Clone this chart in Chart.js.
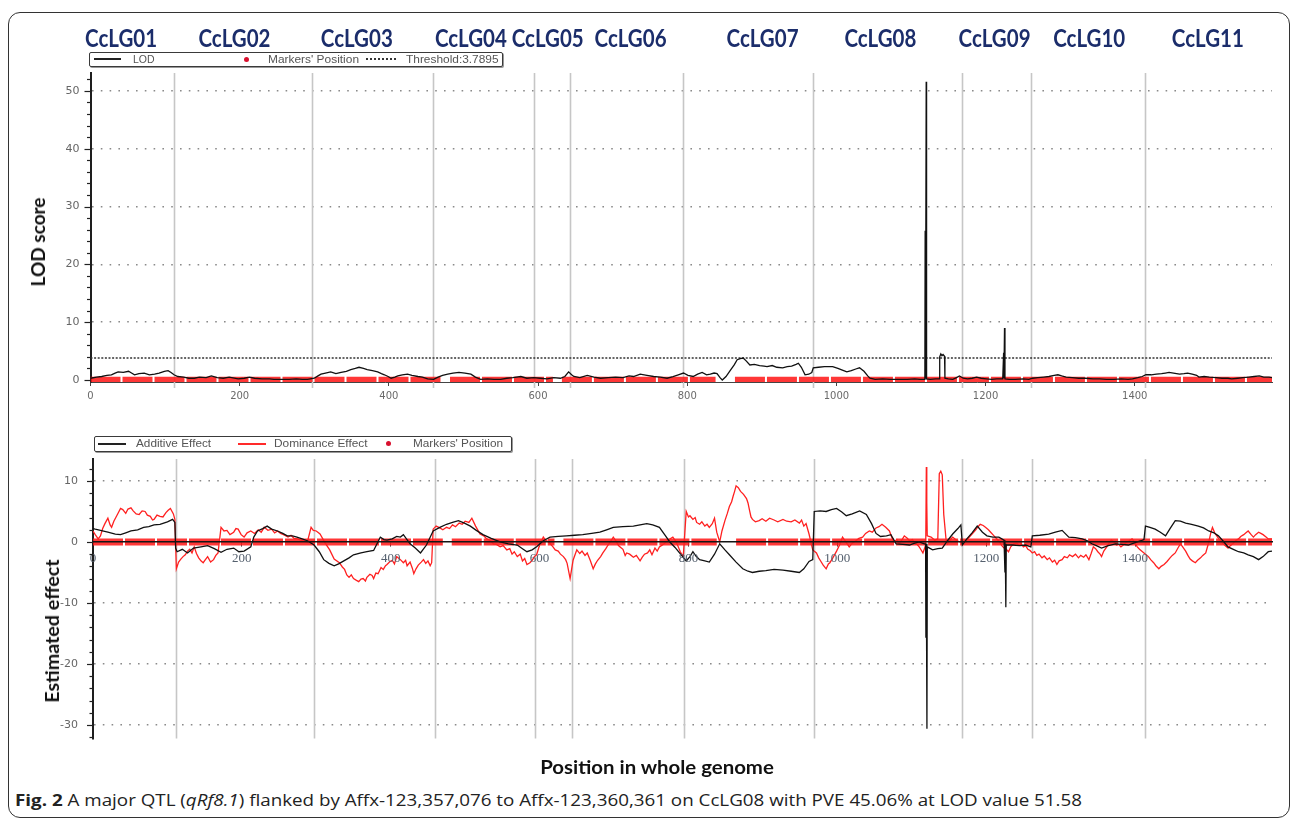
<!DOCTYPE html>
<html>
<head>
<meta charset="utf-8">
<title>QTL qRf8.1 on CcLG08</title>
<script src="https://cdn.jsdelivr.net/npm/chart.js@4.4.1/dist/chart.umd.min.js"></script>
<style>
html,body{margin:0;padding:0;background:#fff;}
#wrap{position:relative;width:1293px;height:822px;overflow:hidden;background:#fff;}
#frame{position:absolute;left:8px;top:12px;width:1282px;height:806px;box-sizing:border-box;border:1.5px solid #333;border-radius:12px;}
.cv{position:absolute;left:0;}
.t{position:absolute;white-space:nowrap;}
.ytitle{font-family:Lato,sans-serif;font-weight:700;font-size:19px;line-height:22px;color:#111;}
.lgd{position:absolute;box-sizing:border-box;border:1.5px solid #3a3a3a;border-radius:2px;box-shadow:1px 1px 0 #999;background:#fff;}
.lgd .tx{position:absolute;top:0;font-family:'Liberation Sans',Arial,sans-serif;font-size:11px;line-height:12px;color:#555;transform-origin:0 50%;white-space:nowrap;}
.sw{position:absolute;height:2px;}
.dot{position:absolute;width:5px;height:5px;border-radius:50%;background:#d8102e;}
#cap{position:absolute;left:15px;top:790px;font-family:'Open Sans',sans-serif;font-size:16px;line-height:20px;color:#222;transform-origin:0 50%;white-space:nowrap;}
</style>
</head>
<body>
<div id="wrap">
  <div id="frame"></div>
  <canvas id="c1" class="cv" width="1293" height="410" style="top:0"></canvas>
  <canvas id="c2" class="cv" width="1293" height="350" style="top:410px"></canvas>

  <div class="lgd" style="left:89px;top:52px;width:414px;height:15px">
    <div class="sw" style="left:4px;top:5px;width:27px;background:#222"></div>
    <span class="tx" style="left:43px" data-w="22">LOD</span>
    <div class="dot" style="left:154px;top:3.5px"></div>
    <span class="tx" style="left:178px" data-w="91">Markers' Position</span>
    <div class="sw" style="left:276px;top:5px;width:30px;height:0;border-top:2px dotted #333"></div>
    <span class="tx" style="left:316px" data-w="93">Threshold:3.7895</span>
  </div>

  <div class="lgd" style="left:94px;top:436px;width:418px;height:16px">
    <div class="sw" style="left:3px;top:5.5px;width:28px;background:#222"></div>
    <span class="tx" style="left:41px" data-w="75">Additive Effect</span>
    <div class="sw" style="left:143px;top:5.5px;width:28px;background:#ff2a2a"></div>
    <span class="tx" style="left:179px" data-w="94">Dominance Effect</span>
    <div class="dot" style="left:291px;top:4px"></div>
    <span class="tx" style="left:318px" data-w="90">Markers' Position</span>
  </div>

  <div class="t ytitle" data-cx="38" data-cy="242" data-w="89" data-rot="1">LOD score</div>
  <div class="t ytitle" data-cx="52" data-cy="631" data-w="143" data-rot="1">Estimated effect</div>
  <div class="t ytitle" data-cx="657" data-cy="767" data-w="234">Position in whole genome</div>
  <div id="cap" data-w="1067"><b>Fig. 2</b> A major QTL (<i>qRf8.1</i>) flanked by Affx-123,357,076 to Affx-123,360,361 on CcLG08 with PVE 45.06% at LOD value 51.58</div>
</div>

<script>
// ---------------- data ----------------
const xMax = 1584;
const xTickValues = [0, 200, 400, 600, 800, 1000, 1200, 1400];
const lgNames = ['CcLG01','CcLG02','CcLG03','CcLG04','CcLG05','CcLG06','CcLG07','CcLG08','CcLG09','CcLG10','CcLG11'];
const lgLabelPos = [41, 193, 357, 510, 613, 724, 901, 1059, 1212, 1339, 1498];
const lgBounds = [112, 297, 459, 594, 643, 794, 969, 1168, 1261, 1414];
const lodThreshold = 3.7895;

const lodCurve = [[0,0.3],[8,0.5],[15,0.6],[22,0.8],[28,0.9],[33,1.2],[37,1.4],[44,1.3],[51,1.5],[55,1.2],[59,0.9],[65,1.1],[72,1.2],[79,0.9],[86,1.0],[92,1.2],[99,1.5],[104,1.6],[108,1.3],[112,0.9],[117,0.6],[125,0.5],[132,0.3],[139,0.3],[146,0.5],[155,0.4],[162,0.7],[170,0.4],[178,0.3],[186,0.5],[198,0.2],[206,0.3],[213,0.5],[220,0.3],[230,0.2],[240,0.2],[246,0.1],[256,0.1],[266,0.1],[276,0.2],[284,0.1],[291,0.1],[300,0.3],[305,0.7],[309,1.0],[315,1.2],[322,1.4],[329,1.1],[336,1.3],[343,1.5],[349,1.8],[355,2.0],[360,2.2],[366,2.0],[371,1.8],[378,1.6],[385,1.4],[390,1.1],[394,0.9],[399,0.6],[403,0.3],[408,0.5],[412,0.7],[418,0.9],[425,1.0],[431,0.8],[439,0.6],[445,0.5],[452,0.2],[460,0.1],[466,0.5],[472,0.8],[479,1.0],[486,1.2],[494,1.3],[502,1.2],[510,1.0],[516,0.5],[523,0.1],[532,0.2],[541,0.1],[550,0.1],[558,0.3],[566,0.4],[577,0.6],[585,0.3],[594,0.4],[603,0.3],[612,0.2],[621,0.4],[630,0.3],[636,0.6],[641,1.4],[645,0.9],[648,0.6],[656,0.4],[666,0.8],[675,0.5],[684,0.3],[694,0.4],[704,0.5],[714,0.4],[722,0.7],[728,0.6],[737,1.0],[746,0.8],[755,0.6],[764,0.5],[773,0.3],[781,0.6],[788,0.9],[795,1.2],[801,0.8],[808,0.6],[814,1.0],[820,1.3],[826,0.9],[831,1.0],[836,1.2],[840,1.1],[844,0.4],[847,0.0],[852,0.6],[858,1.7],[863,2.6],[867,3.5],[871,3.7],[875,3.8],[879,3.3],[884,2.6],[890,2.7],[897,2.5],[903,2.4],[907,2.3],[914,2.5],[920,2.2],[928,2.1],[934,2.3],[940,2.4],[946,2.7],[949,2.9],[953,2.2],[958,0.9],[963,1.0],[967,1.3],[969,2.1],[976,2.2],[984,2.3],[990,2.3],[995,2.3],[1002,2.0],[1008,1.7],[1014,1.4],[1020,1.6],[1026,1.9],[1031,2.1],[1037,1.5],[1042,0.7],[1045,0.3],[1052,0.1],[1062,0.2],[1072,0.1],[1085,0.1],[1095,0.1],[1105,0.2],[1112,0.1],[1118.6,0.1],[1119,25.8],[1119.4,0.2],[1120.4,51.6],[1120.9,0.2],[1126,0.1],[1133,0.2],[1138,0.2],[1138.5,4.0],[1140,4.5],[1141.5,4.2],[1143,4.4],[1145,4.1],[1145.5,0.3],[1150,0.2],[1156,0.1],[1161,0.4],[1165,0.7],[1170,0.3],[1176,0.2],[1182,0.3],[1188,0.5],[1194,0.3],[1201,0.2],[1208,0.1],[1215,0.2],[1223,0.2],[1224.2,4.7],[1224.6,0.3],[1225.4,9.0],[1226,0.2],[1232,0.1],[1240,0.1],[1250,0.2],[1258,0.1],[1263,0.3],[1270,0.4],[1278,0.5],[1285,0.6],[1292,0.8],[1297,0.9],[1302,0.7],[1308,0.5],[1316,0.4],[1325,0.3],[1334,0.3],[1344,0.2],[1353,0.2],[1362,0.1],[1372,0.1],[1382,0.2],[1391,0.1],[1397,0.2],[1404,0.4],[1410,0.6],[1415,0.9],[1422,0.9],[1429,1.0],[1436,1.1],[1441,1.2],[1446,1.3],[1452,1.2],[1460,1.0],[1466,1.1],[1471,1.2],[1477,1.0],[1483,0.8],[1486,0.5],[1493,0.6],[1500,0.5],[1509,0.4],[1517,0.3],[1525,0.3],[1530,0.2],[1538,0.3],[1545,0.4],[1553,0.5],[1560,0.6],[1567,0.7],[1573,0.5],[1580,0.5],[1584,0.4]];

const additiveCurve = [[0,2.2],[3,2.1],[10,1.9],[20,1.6],[30,1.3],[37,1.2],[44,1.5],[51,1.8],[60,2.0],[68,2.4],[75,2.5],[82,2.8],[90,2.9],[100,3.3],[107,3.7],[110,3.2],[111,-1.0],[113,-1.6],[120,-1.2],[127,-1.8],[135,-1.0],[145,-0.8],[154,-0.6],[163,-1.1],[172,-1.7],[180,-1.2],[189,-1.0],[196,-1.6],[203,-1.5],[212,-0.8],[216,0.8],[221,1.8],[228,2.2],[234,2.6],[240,2.1],[248,1.8],[255,1.4],[261,1.0],[268,1.0],[274,0.8],[281,0.5],[288,0.2],[297,-0.5],[304,-1.6],[310,-2.9],[317,-3.5],[324,-3.9],[330,-3.6],[337,-3.1],[344,-2.6],[350,-2.1],[360,-1.8],[368,-1.6],[377,-1.4],[386,0.8],[391,0.4],[395,0.3],[402,0.5],[408,0.9],[413,0.8],[417,1.2],[426,-0.3],[433,-1.0],[440,-1.8],[448,-0.5],[457,1.8],[466,2.4],[475,2.9],[483,3.2],[491,3.5],[499,3.1],[507,2.6],[515,1.9],[524,1.2],[535,0.6],[547,0.0],[558,-0.3],[570,-0.5],[577,-1.1],[583,-1.6],[590,-1.3],[596,-0.8],[605,0.2],[614,0.8],[625,0.9],[636,1.0],[647,1.1],[658,1.2],[670,1.4],[681,1.6],[690,2.0],[699,2.4],[712,2.5],[726,2.6],[735,2.8],[744,3.0],[752,2.8],[761,2.4],[768,1.2],[775,0.0],[782,-0.9],[788,-1.8],[797,-3.1],[802,-2.4],[806,-1.6],[810,-2.3],[815,-2.9],[822,-3.1],[828,-3.3],[835,-2.0],[842,-0.3],[849,-1.3],[855,-2.1],[864,-3.3],[873,-4.4],[880,-4.8],[886,-5.0],[895,-4.8],[904,-4.7],[915,-4.5],[927,-4.6],[938,-4.8],[949,-5.0],[955,-4.4],[962,-3.2],[967,-2.9],[969,5.0],[977,5.1],[985,5.0],[992,5.3],[999,5.5],[1006,4.9],[1012,4.3],[1020,4.6],[1030,5.1],[1039,4.5],[1046,3.0],[1052,1.4],[1058,0.9],[1066,1.0],[1072,1.2],[1079,-0.3],[1088,-0.4],[1097,-0.5],[1104,-0.2],[1110,0.0],[1117,-0.3],[1118.6,-0.3],[1119,-15.7],[1119.4,-0.3],[1120.4,-30.6],[1120.9,-0.8],[1128,-1.3],[1135,-1.1],[1141,-1.0],[1148,0.2],[1155,1.3],[1162,2.2],[1166,2.8],[1168,-0.5],[1174,0.5],[1181,1.5],[1188,2.6],[1195,1.6],[1201,1.0],[1209,0.8],[1217,0.8],[1224,0.3],[1225.2,-5.0],[1225.6,-0.3],[1226.4,-10.7],[1227,-0.5],[1235,-0.5],[1245,-0.6],[1253,-0.5],[1260,-0.8],[1262,1.0],[1272,1.1],[1284,1.3],[1293,1.6],[1302,1.9],[1311,0.8],[1320,0.7],[1329,0.5],[1336,0.2],[1342,-0.3],[1348,-0.6],[1355,-1.0],[1364,-0.6],[1374,-0.3],[1382,-0.4],[1391,-0.5],[1400,-0.1],[1408,0.2],[1412,0.4],[1414,2.6],[1420,2.4],[1427,2.1],[1434,1.6],[1441,1.0],[1447,2.2],[1454,3.5],[1461,3.4],[1468,3.1],[1476,2.9],[1485,2.6],[1492,2.3],[1499,1.8],[1506,1.5],[1512,1.0],[1518,0.2],[1525,-0.8],[1532,-1.2],[1539,-1.6],[1546,-1.8],[1552,-2.1],[1559,-2.4],[1566,-2.9],[1572,-2.4],[1579,-1.6],[1584,-1.5]];

const dominanceCurve = [[0,1.8],[3,1.2],[7,0.5],[10,1.0],[13,2.2],[16,3.0],[20,3.9],[23,2.8],[25,2.4],[28,3.4],[31,4.1],[34,4.8],[37,5.5],[40,5.3],[44,4.7],[47,5.4],[51,5.6],[54,5.1],[58,4.6],[62,4.5],[66,5.1],[70,5.0],[73,4.4],[77,4.2],[80,3.6],[82,3.7],[86,4.4],[90,4.2],[94,4.1],[98,4.8],[101,5.2],[104,5.5],[108,4.6],[110,3.7],[112,-4.4],[115,-3.3],[118,-2.8],[121,-2.4],[124,-2.1],[127,-1.5],[130,-1.2],[133,-1.8],[136,-0.8],[139,-1.9],[142,-2.6],[145,-3.1],[148,-3.4],[151,-2.9],[154,-2.4],[158,-3.3],[162,-2.9],[165,-2.2],[168,-1.8],[172,2.4],[176,1.8],[180,1.9],[184,1.2],[189,1.6],[192,2.2],[195,2.1],[199,1.2],[203,0.8],[207,1.5],[212,1.8],[217,1.4],[222,2.0],[226,1.6],[230,2.4],[235,1.9],[240,2.1],[244,1.5],[248,1.8],[252,1.4],[256,1.2],[262,0.8],[266,1.1],[270,0.6],[275,0.5],[281,0.2],[288,0.0],[293,2.4],[296,1.9],[300,1.8],[305,1.3],[312,-0.2],[318,-1.3],[324,-2.8],[331,-3.4],[335,-4.1],[338,-4.5],[341,-5.4],[344,-5.8],[347,-5.4],[350,-6.0],[354,-6.3],[357,-6.5],[360,-6.1],[363,-6.0],[366,-6.4],[368,-5.8],[372,-5.3],[375,-5.5],[377,-6.0],[380,-5.1],[383,-5.2],[387,-4.2],[390,-4.5],[393,-3.9],[395,-3.7],[399,-3.2],[402,-3.0],[405,-3.6],[408,-2.4],[413,-2.9],[417,-3.4],[420,-3.0],[422,-3.9],[426,-3.3],[429,-4.3],[431,-5.2],[434,-4.4],[437,-3.8],[441,-3.3],[444,-2.9],[447,-3.5],[450,-3.1],[453,-3.9],[455,-3.4],[457,2.1],[461,2.6],[466,2.3],[470,2.0],[475,2.4],[479,2.2],[483,2.8],[487,2.5],[492,3.1],[496,2.9],[500,3.4],[505,3.2],[509,3.9],[514,2.6],[520,1.3],[525,1.0],[529,0.5],[534,0.2],[538,-0.3],[542,-0.4],[547,-0.8],[551,-0.6],[556,-1.3],[560,-1.1],[563,-2.0],[566,-1.6],[570,-2.4],[574,-2.0],[577,-3.1],[580,-2.7],[583,-3.7],[587,-3.4],[590,-3.0],[593,-2.4],[596,-2.1],[600,-0.5],[605,0.8],[608,0.3],[612,0.0],[615,-0.4],[618,-0.8],[621,-1.3],[625,-1.5],[628,-2.0],[632,-2.4],[635,-2.9],[637,-3.5],[641,-6.0],[645,-3.0],[650,-1.3],[654,-1.9],[657,-1.5],[661,-2.2],[664,-1.8],[668,-3.0],[672,-4.4],[675,-3.6],[678,-3.0],[682,-2.4],[685,-1.8],[689,-1.1],[692,-0.5],[696,0.2],[699,0.8],[703,0.1],[706,-0.6],[709,-0.9],[712,-1.2],[715,-2.2],[717,-1.8],[721,-2.0],[726,-2.5],[730,-2.2],[735,-3.1],[738,-2.5],[741,-2.0],[745,-1.8],[748,-1.3],[751,-2.1],[755,-1.0],[758,-1.5],[761,-0.8],[766,-0.4],[770,0.0],[775,0.5],[779,0.8],[783,0.1],[786,-0.7],[789,-1.6],[793,-2.4],[797,5.0],[800,4.1],[802,4.3],[806,3.7],[809,4.0],[811,3.2],[815,2.9],[818,3.3],[822,2.6],[825,2.9],[828,2.4],[832,3.0],[835,3.9],[838,1.6],[842,0.0],[845,1.8],[849,3.5],[852,4.6],[855,5.8],[858,6.6],[860,7.5],[862,8.3],[864,9.2],[867,8.9],[870,8.3],[874,7.8],[878,7.1],[880,6.4],[882,5.2],[884,4.1],[886,3.7],[890,3.3],[895,3.5],[899,3.8],[904,3.4],[909,3.9],[915,3.6],[920,3.3],[927,3.7],[932,3.4],[938,3.3],[943,3.6],[949,3.1],[952,3.6],[955,2.6],[958,3.0],[962,1.3],[967,-1.3],[972,-1.8],[975,-2.6],[978,-3.2],[981,-3.8],[985,-4.4],[988,-3.6],[990,-3.4],[994,-2.6],[999,-1.5],[1003,-0.5],[1007,0.8],[1011,0.1],[1016,-0.8],[1020,-0.2],[1025,0.2],[1029,0.6],[1034,0.8],[1038,1.4],[1043,1.8],[1047,1.6],[1052,2.3],[1056,2.5],[1060,2.9],[1065,2.4],[1070,1.8],[1073,0.8],[1076,0.0],[1080,0.4],[1083,-0.3],[1087,0.4],[1090,1.0],[1094,0.6],[1097,0.2],[1101,0.4],[1104,-0.3],[1107,-0.4],[1110,-0.8],[1112,-1.2],[1115,-1.8],[1118.8,-0.5],[1119.6,12.3],[1120.2,6.5],[1120.8,1.0],[1126,0.8],[1131,0.3],[1135,0.5],[1137,11.2],[1139,11.6],[1141,11.0],[1143,4.5],[1146,0.5],[1148,-0.3],[1152,0.4],[1155,0.8],[1158,0.5],[1161,0.2],[1165,0.0],[1168,-0.3],[1172,0.2],[1175,0.5],[1178,0.9],[1181,1.3],[1186,2.0],[1189,2.5],[1192,2.9],[1196,2.7],[1199,2.4],[1203,2.0],[1206,1.6],[1209,1.2],[1212,0.8],[1215,0.4],[1218,0.0],[1221,-0.6],[1224,-1.0],[1227,-1.2],[1230,-1.6],[1233,-0.8],[1237,-0.3],[1241,-0.2],[1244,-0.5],[1247,-0.3],[1250,-0.8],[1253,-0.6],[1256,-1.2],[1259,-1.4],[1262,-1.8],[1265,-1.6],[1268,-2.2],[1271,-2.0],[1275,-2.6],[1278,-2.3],[1282,-2.9],[1285,-2.6],[1289,-3.3],[1292,-3.0],[1295,-3.7],[1298,-3.1],[1302,-2.9],[1305,-2.4],[1309,-2.6],[1312,-2.1],[1316,-2.4],[1320,-2.0],[1324,-2.6],[1327,-2.2],[1331,-2.5],[1334,-2.1],[1338,-2.9],[1341,-1.9],[1344,-0.8],[1347,-1.1],[1350,-1.6],[1353,-2.0],[1355,-2.4],[1358,-1.5],[1362,-0.8],[1365,-0.2],[1368,0.3],[1372,0.0],[1375,-0.5],[1378,-0.4],[1381,-0.8],[1385,-0.4],[1389,0.0],[1392,0.2],[1396,0.5],[1399,0.0],[1403,-0.8],[1406,-1.2],[1410,-1.6],[1414,-2.0],[1418,-2.4],[1421,-2.9],[1425,-3.4],[1428,-3.9],[1432,-4.4],[1435,-4.0],[1439,-3.7],[1443,-3.2],[1447,-2.6],[1450,-2.2],[1454,-1.8],[1458,-0.9],[1461,-0.3],[1464,-0.8],[1468,-1.5],[1471,-2.2],[1474,-2.8],[1477,-3.1],[1481,-3.4],[1484,-3.0],[1488,-2.6],[1491,-2.2],[1495,-1.8],[1498,-0.5],[1500,0.5],[1502,1.6],[1504,2.4],[1507,1.5],[1511,0.8],[1514,0.3],[1518,-0.2],[1521,-0.6],[1525,-1.0],[1528,-0.6],[1532,-0.2],[1535,0.2],[1539,0.5],[1542,0.9],[1546,1.2],[1549,1.5],[1552,1.8],[1556,1.2],[1559,0.8],[1562,1.2],[1566,1.6],[1569,1.4],[1572,1.2],[1576,0.8],[1579,0.5],[1584,0.5]];

// marker clusters along the genome: [start, end]
const markerRuns = [[0,470],[482,620],[632,838],[864,1584]];

// ---------------- build ----------------
const toXY = arr => arr.map(([x, y]) => ({x, y}));
const markerData = markerRuns.flatMap(([a, b]) => [{x:a, y:0}, {x:b, y:0}, {x:b, y:null}]);

const decor = {
  id: 'decor',
  beforeDatasetsDraw(chart, args, opts) {
    const {ctx, chartArea: a, scales: {x}} = chart;
    ctx.save();
    ctx.strokeStyle = '#c6c6c6';
    ctx.lineWidth = 1.6;
    lgBounds.forEach(b => {
      const px = Math.round(x.getPixelForValue(b)) + 0.5;
      ctx.beginPath(); ctx.moveTo(px, a.top); ctx.lineTo(px, a.bottom + opts.extend); ctx.stroke();
    });
    ctx.restore();
  },
  afterDraw(chart, args, opts) {
    const {ctx, scales: {x, y}} = chart;
    ctx.save();
    ctx.strokeStyle = '#222';
    ctx.lineWidth = 1.2;
    for (let v = Math.ceil(y.min / 2) * 2; v <= y.max; v += 2) {
      const py = Math.round(y.getPixelForValue(v)) + 0.5;
      const len = (v % 10 === 0) ? 6 : 3.5;
      ctx.beginPath(); ctx.moveTo(y.right - len, py); ctx.lineTo(y.right, py); ctx.stroke();
    }
    if (opts.labels) {
      ctx.font = 'bold 24px Lato, sans-serif';
      ctx.fillStyle = '#1b2d6b';
      ctx.textAlign = 'center';
      ctx.textBaseline = 'middle';
      lgNames.forEach((n, i) => ctx.fillText(n, x.getPixelForValue(lgLabelPos[i]), 39, 72));
    }
    ctx.restore();
  }
};

function yScale(min, max, width, pad) {
  return {
    type: 'linear', min, max,
    afterFit: s => { s.width = width; },
    ticks: {stepSize: 10, includeBounds: false, padding: pad, color: '#666',
            font: {family: 'DejaVu Sans', size: 11}},
    grid: {drawTicks: false, lineWidth: 1.6,
           color: c => (c.tick && c.tick.value !== 0) ? '#8a8a8a' : 'rgba(0,0,0,0)'},
    border: {display: true, color: '#1e1e1e', width: 2, dash: [1.6, 7.2]}
  };
}

function xScale(extra) {
  return Object.assign({
    type: 'linear', min: 0, max: xMax,
    afterBuildTicks: s => { s.ticks = xTickValues.map(v => ({value: v})); },
    grid: {display: true, drawOnChartArea: false, drawTicks: true, tickLength: 4, tickColor: '#444'}
  }, extra);
}

const common = {
  responsive: false, animation: false, events: [],
  plugins: {legend: {display: false}, tooltip: {enabled: false}},
  elements: {point: {radius: 0}, line: {tension: 0}}
};

const markerStyle = {borderColor: 'rgba(255,20,20,0.85)', borderCapStyle: 'butt', borderDash: [30, 2], spanGaps: false};

new Chart(document.getElementById('c1'), {
  type: 'line',
  data: {datasets: [
    Object.assign({label: "Markers' Position", data: markerData, borderWidth: 6.5, order: 3}, markerStyle),
    {label: 'Threshold:3.7895', data: [{x: 0, y: lodThreshold}, {x: xMax, y: lodThreshold}],
     borderColor: '#333', borderWidth: 1.5, borderDash: [2, 1.6], order: 2},
    {label: 'LOD', data: toXY(lodCurve), borderColor: '#111', borderWidth: 1.3, order: 1}
  ]},
  options: Object.assign({}, common, {
    layout: {padding: {left: 0, top: 73, right: 21, bottom: 0}},
    scales: {
      x: xScale({afterFit: s => { s.height = 28; },
          ticks: {autoSkip: false, maxRotation: 0, padding: 4, color: '#6a6a6a',
                  font: {family: 'DejaVu Sans', size: 10}, callback: v => String(v)},
          border: {display: true, color: '#444', width: 1}}),
      y: yScale(-0.35, 53.1, 90.5, 11)
    },
    plugins: Object.assign({}, common.plugins, {decor: {extend: 6, labels: true}})
  }),
  plugins: [decor]
});

new Chart(document.getElementById('c2'), {
  type: 'line',
  data: {datasets: [
    Object.assign({label: "Markers' Position", data: markerData, borderWidth: 7, order: 4}, markerStyle),
    {label: 'Dominance Effect', data: toXY(dominanceCurve), borderColor: '#ff2020', borderWidth: 1.3, order: 3},
    {label: 'Additive Effect', data: toXY(additiveCurve), borderColor: '#111', borderWidth: 1.3, order: 2}
  ]},
  options: Object.assign({}, common, {
    layout: {padding: {left: 0, top: 49, right: 21, bottom: 9}},
    scales: {
      x: xScale({position: {y: 0}, afterFit: s => { s.height = 0; },
          ticks: {autoSkip: false, maxRotation: 0, padding: 5, color: '#55606e',
                  font: {family: 'Liberation Serif', size: 13}, z: 1, callback: v => String(v)},
          border: {display: true, color: '#151515', width: 1.6, z: 1}}),
      y: yScale(-32.2, 13.6, 93, 15)
    },
    plugins: Object.assign({}, common.plugins, {decor: {extend: 0, labels: false}})
  }),
  plugins: [decor]
});

// ---------------- text fitting ----------------
document.querySelectorAll('[data-w]').forEach(el => {
  const k = (+el.dataset.w) / el.offsetWidth;
  if (el.dataset.cx) {
    el.style.left = el.dataset.cx + 'px';
    el.style.top = el.dataset.cy + 'px';
    el.style.transform = 'translate(-50%,-50%)' + (el.dataset.rot === '1' ? ' rotate(-90deg)' : '') + ' scaleX(' + k + ')';
  } else {
    el.style.transform = 'scaleX(' + k + ')';
  }
});
</script>
</body>
</html>
